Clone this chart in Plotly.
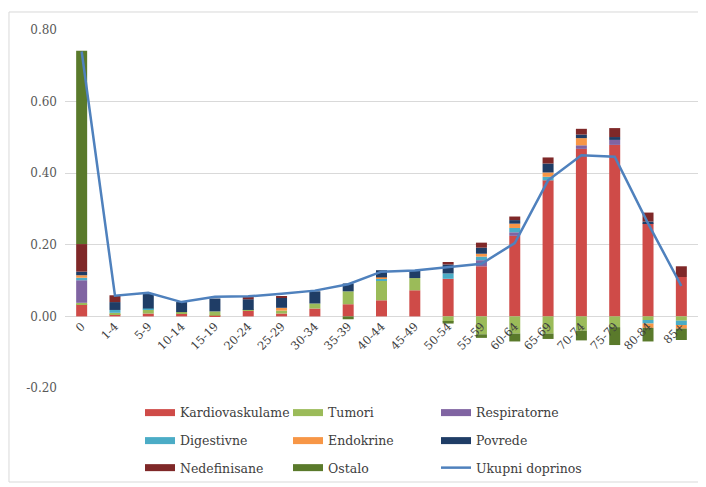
import plotly.graph_objects as go

categories = ['0', '1-4', '5-9', '10-14', '15-19', '20-24', '25-29', '30-34', '35-39',
              '40-44', '45-49', '50-54', '55-59', '60-64', '65-69', '70-74', '75-79',
              '80-84', '85+']

kardiovaskularne = [0.034, 0.006, 0.008, 0.008, 0.002, 0.016, 0.008, 0.022, 0.034, 0.045,
                    0.073, 0.105, 0.140, 0.225, 0.380, 0.468, 0.479, 0.260, 0.110]
tumori = [0.004, 0.004, 0.012, 0.004, 0.012, 0.002, 0.008, 0.014, 0.036, 0.056,
          0.034, -0.015, -0.050, -0.048, -0.048, -0.040, -0.030, -0.010, -0.012]
respiratorne = [0.063, 0.0, 0.0, 0.0, 0.0, 0.0, 0.0, 0.0, 0.0, 0.0,
                0.0, 0.0, 0.017, 0.010, 0.0, 0.010, 0.014, 0.0, 0.0]
digestivne = [0.007, 0.008, 0.002, 0.0, 0.0, 0.0, 0.0, 0.0, 0.0, 0.004,
              0.0, 0.015, 0.010, 0.012, 0.010, 0.0, 0.0, -0.010, -0.012]
endokrine = [0.007, 0.0, 0.0, 0.0, 0.0, 0.0, 0.008, 0.0, 0.0, 0.004,
             0.0, 0.0, 0.008, 0.012, 0.012, 0.020, 0.0, -0.012, -0.010]
povrede = [0.010, 0.022, 0.042, 0.028, 0.036, 0.030, 0.028, 0.034, 0.022, 0.020,
           0.022, 0.025, 0.017, 0.010, 0.025, 0.010, 0.008, 0.005, 0.0]
nedefinisane = [0.077, 0.019, 0.0, 0.0, 0.0, 0.006, 0.004, 0.0, 0.0, 0.0,
                0.0, 0.007, 0.014, 0.010, 0.017, 0.016, 0.025, 0.025, 0.030]
ostalo = [0.540, 0.0, 0.0, 0.0, 0.0, 0.0, 0.0, 0.0, -0.008, 0.0,
          0.0, -0.005, -0.010, -0.022, -0.015, -0.027, -0.050, -0.038, -0.032]
ukupni_doprinos = [0.740, 0.058, 0.066, 0.040, 0.055, 0.056, 0.063, 0.072, 0.090, 0.125,
                   0.128, 0.138, 0.147, 0.205, 0.380, 0.450, 0.446, 0.260, 0.085]

y_ticks = [-0.2, 0.0, 0.2, 0.4, 0.6, 0.8]

SERIF = 'DejaVu Serif'

series = [
    ('Kardiovaskulame', kardiovaskularne, '#CF4B48', 'legend'),
    ('Tumori', tumori, '#9BBB59', 'legend'),
    ('Respiratorne', respiratorne, '#8064A2', 'legend'),
    ('Digestivne', digestivne, '#4BACC6', 'legend2'),
    ('Endokrine', endokrine, '#F79646', 'legend2'),
    ('Povrede', povrede, '#1F3D66', 'legend2'),
    ('Nedefinisane', nedefinisane, '#7F2828', 'legend3'),
    ('Ostalo', ostalo, '#5A7A2B', 'legend3'),
]

fig = go.Figure()
for name, vals, color, _ in series:
    fig.add_trace(go.Bar(x=categories, y=vals, name=name, marker_color=color,
                         marker_line_width=0, showlegend=False))

fig.add_trace(go.Scatter(x=categories, y=ukupni_doprinos, mode='lines',
                         line=dict(color='#4F81BD', width=2.5), showlegend=False))

# legend-only entries (wide swatches like the original)
for name, vals, color, lg in series:
    fig.add_trace(go.Scatter(x=[None], y=[None], mode='lines', name=name,
                             line=dict(color=color, width=7), legend=lg))
fig.add_trace(go.Scatter(x=[None], y=[None], mode='lines', name='Ukupni doprinos',
                         line=dict(color='#4F81BD', width=2.5), legend='legend3'))

legend_common = dict(orientation='h', xanchor='left', yanchor='middle', x=0.1185,
                     entrywidth=103, font=dict(family=SERIF, size=12.5, color='#404040'),
                     bgcolor='rgba(0,0,0,0)', itemclick=False)

fig.update_layout(
    width=698, height=479,
    margin=dict(l=57, r=8, t=22, b=99, autoexpand=False),
    paper_bgcolor='white', plot_bgcolor='white',
    barmode='relative', bargap=0.67,
    font=dict(family=SERIF, color='#404040'),
    legend=dict(legend_common, y=-0.0698),
    legend2=dict(legend_common, y=-0.148),
    legend3=dict(legend_common, y=-0.2235),
    xaxis=dict(type='category', anchor='free', position=0.2, tickangle=-45,
               showgrid=False, showline=False, ticks='',
               tickfont=dict(family=SERIF, size=11.5, color='#404040')),
    yaxis=dict(range=[-0.2, 0.8], tickvals=y_ticks,
               ticktext=[f'{v:.2f}' for v in y_ticks],
               showgrid=True, gridcolor='#D9D9D9', gridwidth=1,
               zeroline=True, zerolinecolor='#D9D9D9', zerolinewidth=1,
               showline=False, ticks='', ticklabelstandoff=7,
               tickfont=dict(family=SERIF, size=12, color='#595959')),
    shapes=[dict(type='rect', xref='paper', yref='paper',
                 x0=-0.0885, x1=1.009, y0=-0.2626, y1=1.0503,
                 line=dict(color='#D9D9D9', width=1), layer='below')],
)

fig.write_html('out.html')
